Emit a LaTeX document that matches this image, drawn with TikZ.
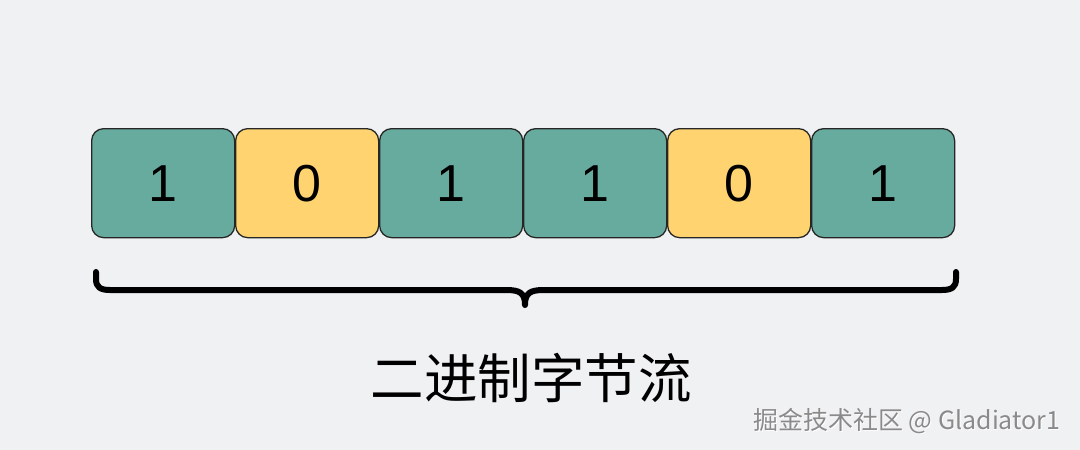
\documentclass[tikz,border=0pt]{standalone}
\usepackage{fontspec}
\setmainfont{Liberation Sans}
\newfontfamily\cjk{Noto Sans CJK SC}
\definecolor{bg}{HTML}{F0F1F3}
\definecolor{gr}{HTML}{67AB9F}
\definecolor{ye}{HTML}{FFD470}
\definecolor{wm}{HTML}{8A8A8A}
\begin{document}
\begin{tikzpicture}[x=1pt,y=-1pt,
  bit/.style={draw=black!85,line width=1.3pt,rounded corners=12pt,minimum width=143pt,minimum height=109pt,inner sep=0pt,font=\fontsize{52}{52}\selectfont,text=black,anchor=north west},
  one/.style={bit,fill=gr},
  zero/.style={bit,fill=ye}]
\fill[bg] (0,0) rectangle (1080,450);
\useasboundingbox (0,0) rectangle (1080,450);
\node[one]  (b1) at (91,128)  {1};
\node[zero] (b2) at (235,128) {0};
\node[one]  (b3) at (379,128) {1};
\node[one]  (b4) at (523,128) {1};
\node[zero] (b5) at (667,128) {0};
\node[one]  (b6) at (811,128) {1};
\draw[line width=6pt,line cap=round,line join=round]
  (96,272) -- (96,279) .. controls (96,287) and (100,290) .. (110,290)
  -- (506,290) .. controls (520,290) and (525,293) .. (525,305)
  .. controls (525,293) and (530,290) .. (544,290)
  -- (942,290) .. controls (952,290) and (956,287) .. (956,279) -- (956,272);
\node[font=\cjk\fontsize{53.5}{54}\selectfont] (lab) at (531,378) {二进制字节流};
\node[font=\cjk\fontsize{25}{25}\selectfont,text=white,anchor=east] (wms) at (1064.8,421.8) {掘金技术社区 @ Gladiator1};
\node[font=\cjk\fontsize{25}{25}\selectfont,text=wm,anchor=east] (wmk) at (1064,421) {掘金技术社区 @ Gladiator1};
\end{tikzpicture}
\end{document}
